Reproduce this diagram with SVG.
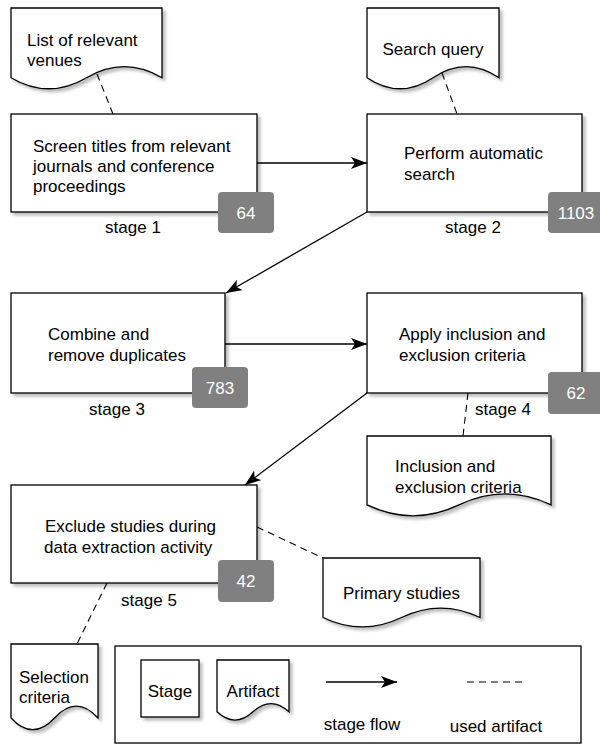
<svg xmlns="http://www.w3.org/2000/svg" width="600" height="745" viewBox="0 0 600 745">
<defs>
<filter id="sh" x="-10%" y="-10%" width="130%" height="130%">
<feDropShadow dx="3" dy="3" stdDeviation="1.5" flood-color="#000" flood-opacity="0.25"/>
</filter>
<marker id="arr" markerUnits="userSpaceOnUse" markerWidth="17" markerHeight="13" refX="16" refY="6" orient="auto">
<path d="M0,0 L16,6 L0,12 L4,6 Z" fill="#000"/>
</marker>
</defs>
<style>
.box{fill:#fff;stroke:#000;stroke-width:1.3;filter:url(#sh)}
.doc{fill:#fff;stroke:#000;stroke-width:1.3;filter:url(#sh)}
.badge{fill:#808080;stroke:none}
.flow{fill:none;stroke:#000;stroke-width:1.3;marker-end:url(#arr)}
.used{fill:none;stroke:#000;stroke-width:1.1;stroke-dasharray:7 5}
text{font-family:"Liberation Sans",Arial,sans-serif;font-size:17px;fill:#000}
.bt{fill:#fff;text-anchor:middle}
.c{text-anchor:middle}
</style>
<rect x="0" y="0" width="600" height="745" fill="#fff"/>

<g id="connectors">
<path class="flow" d="M257,163 H367"/>
<path class="flow" d="M367,212 L226,293"/>
<path class="flow" d="M225,344 H367"/>
<path class="flow" d="M367,393 L245,485"/>
<path class="used" d="M97,74 L113,114"/>
<path class="used" d="M442,73 L457,114"/>
<path class="used" d="M468,393 L463,436"/>
<path class="used" d="M257,527 L323,558"/>
<path class="used" d="M107,583 L77,644"/>
</g>

<g id="venues">
<path class="doc" d="M11,8 H162 V77.7 Q124.25,55.56 86.5,77.7 Q48.75,99.84 11,77.7 Z"/>
<text x="27" y="46">List of relevant</text>
<text x="27" y="66">venues</text>
</g>

<g id="search-query">
<path class="doc" d="M367,8 H499 V77.7 Q466,55.56 433,77.7 Q400,99.84 367,77.7 Z"/>
<text x="433" y="55" class="c">Search query</text>
</g>

<g id="stage1">
<rect class="box" x="11" y="114" width="246" height="98"/>
<text x="33" y="152">Screen titles from relevant</text>
<text x="33" y="172">journals and conference</text>
<text x="33" y="192">proceedings</text>
<rect class="badge" x="218" y="192" width="56" height="41" rx="4"/>
<text x="246" y="219" class="bt">64</text>
<text x="133" y="233" class="c">stage 1</text>
</g>

<g id="stage2">
<rect class="box" x="367" y="114" width="215" height="98"/>
<text x="404" y="159">Perform automatic</text>
<text x="404" y="180">search</text>
<rect class="badge" x="548" y="192" width="56" height="41" rx="4"/>
<text x="576" y="219" class="bt">1103</text>
<text x="473" y="233" class="c">stage 2</text>
</g>

<g id="stage3">
<rect class="box" x="11" y="293" width="214" height="100"/>
<text x="48" y="340">Combine and</text>
<text x="48" y="361">remove duplicates</text>
<rect class="badge" x="192" y="367" width="56" height="41" rx="4"/>
<text x="220" y="394" class="bt">783</text>
<text x="117" y="415" class="c">stage 3</text>
</g>

<g id="stage4">
<rect class="box" x="367" y="293" width="215" height="100"/>
<text x="399" y="340">Apply inclusion and</text>
<text x="399" y="361">exclusion criteria</text>
<rect class="badge" x="548" y="372" width="56" height="42" rx="4"/>
<text x="576" y="399" class="bt">62</text>
<text x="503" y="415" class="c">stage 4</text>
</g>

<g id="inclusion-criteria">
<path class="doc" d="M367,436 H551 V504.85 Q505,482.98 459,504.85 Q413,526.72 367,504.85 Z"/>
<text x="395" y="472">Inclusion and</text>
<text x="395" y="493">exclusion criteria</text>
</g>

<g id="stage5">
<rect class="box" x="11" y="485" width="246" height="98"/>
<text x="45" y="532">Exclude studies during</text>
<text x="44" y="553">data extraction activity</text>
<rect class="badge" x="218" y="560" width="56" height="42" rx="4"/>
<text x="246" y="587" class="bt">42</text>
<text x="149" y="606" class="c">stage 5</text>
</g>

<g id="primary-studies">
<path class="doc" d="M323,558 H480 V617.5 Q440.75,598.6 401.5,617.5 Q362.25,636.4 323,617.5 Z"/>
<text x="401.5" y="599" class="c">Primary studies</text>
</g>

<g id="selection-criteria">
<path class="doc" d="M11,644 H98 V717.95 Q76.25,694.46 54.5,717.95 Q32.75,741.44 11,717.95 Z"/>
<text x="19" y="683">Selection</text>
<text x="19" y="703">criteria</text>
</g>

<g id="legend">
<rect x="115" y="646" width="466" height="97" fill="#fff" stroke="#000" stroke-width="1.3"/>
<rect class="box" x="141" y="660" width="58" height="57"/>
<text x="170" y="697" class="c">Stage</text>
<path class="doc" d="M217,660 H289 V711.85 Q271,695.38 253,711.85 Q235,728.32 217,711.85 Z"/>
<text x="253" y="697" class="c">Artifact</text>
<path class="flow" d="M326,682 H397"/>
<path class="used" d="M467,682 H522"/>
<text x="362" y="730" class="c">stage flow</text>
<text x="496" y="732" class="c">used artifact</text>
</g>
</svg>
